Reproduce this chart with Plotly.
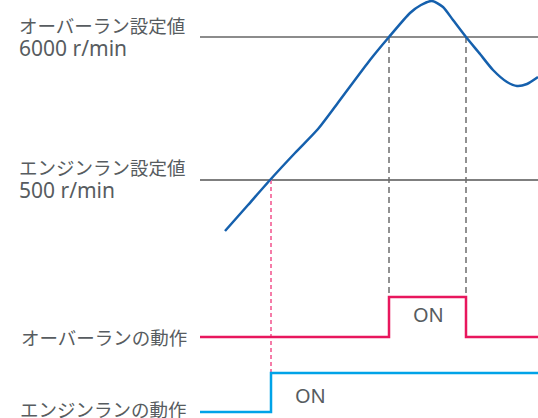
import plotly.graph_objects as go

# --- data (time units along x, signal level along y; y grows downward) ---
speed_t = [225, 248, 270, 295, 318, 340, 370, 389, 410, 421, 432, 443, 453, 466, 480, 493, 507, 517, 527, 538]
speed_v = [231, 205, 180, 153, 129, 100, 60, 37, 13, 5, 1, 7, 20, 37, 54, 70, 82, 86, 84, 77]

overrun_level = 37      # overrun set value (6000 r/min)
engine_level = 180      # engine-run set value (500 r/min)

over_t = [200, 389, 389, 466, 466, 538]
over_v = [337, 337, 297, 297, 337, 337]

eng_t = [200, 271, 271, 538]
eng_v = [412, 412, 373, 373]

cross_eng_t = 271
cross_over_t = [389, 466]
pulse_top = 297
eng_base = 412

set_titles = [("オーバーラン設定値", 17, 25), ("エンジンラン設定値", 17, 167)]
set_values = [("6000 r/min", 17, 47.5), ("500 r/min", 17, 190)]
action_labels = [
    ("オーバーランの動作", 189, 337),
    ("エンジンランの動作", 189, 408.5),
]
on_labels = [("ON", 428, 314), ("ON", 310, 395)]

CJK = "Noto Sans CJK JP"
LAT = "Noto Sans"
TXT = "#575c60"

fig = go.Figure()

# set value lines
fig.add_trace(go.Scatter(x=[200, 538], y=[overrun_level, overrun_level], mode="lines",
                         line=dict(color="#1a1a1a", width=1.1), hoverinfo="skip"))
fig.add_trace(go.Scatter(x=[200, 538], y=[engine_level, engine_level], mode="lines",
                         line=dict(color="#555555", width=1.5), hoverinfo="skip"))

# dashed guides
fig.add_trace(go.Scatter(x=[cross_eng_t, cross_eng_t], y=[engine_level, eng_base], mode="lines",
                         line=dict(color="#f57ca8", width=2, dash="4px,3px"), hoverinfo="skip"))
for t in cross_over_t:
    fig.add_trace(go.Scatter(x=[t, t], y=[overrun_level, pulse_top], mode="lines",
                             line=dict(color="#6e6e6e", width=1.5, dash="6px,4px"), hoverinfo="skip"))

# action signals
fig.add_trace(go.Scatter(x=over_t, y=over_v, mode="lines",
                         line=dict(color="#e8175d", width=2.5), hoverinfo="skip"))
fig.add_trace(go.Scatter(x=eng_t, y=eng_v, mode="lines",
                         line=dict(color="#00a3e8", width=2.5), hoverinfo="skip"))

# speed curve
fig.add_trace(go.Scatter(x=speed_t, y=speed_v, mode="lines",
                         line=dict(color="#1560ad", width=2.5, shape="spline", smoothing=0.6),
                         hoverinfo="skip"))

for txt, x, y in set_titles:
    fig.add_annotation(x=x, y=y, text=txt, showarrow=False, xanchor="left", yanchor="middle",
                       font=dict(family=CJK, size=18.5, color=TXT))
for txt, x, y in set_values:
    fig.add_annotation(x=x, y=y, text=txt, showarrow=False, xanchor="left", yanchor="middle",
                       font=dict(family=LAT, size=21, color=TXT))
for txt, x, y in action_labels:
    fig.add_annotation(x=x, y=y, text=txt, showarrow=False, xanchor="right", yanchor="middle",
                       font=dict(family=CJK, size=18.5, color=TXT))
for txt, x, y in on_labels:
    fig.add_annotation(x=x, y=y, text=txt, showarrow=False, xanchor="center", yanchor="middle",
                       font=dict(family=LAT, size=20, color=TXT))

fig.update_layout(width=538, height=418, margin=dict(l=0, r=0, t=0, b=0),
                  paper_bgcolor="white", plot_bgcolor="white", showlegend=False,
                  xaxis=dict(range=[0, 538], visible=False, fixedrange=True),
                  yaxis=dict(range=[418, 0], visible=False, fixedrange=True))

fig.write_html("out.html", config={"displayModeBar": False},
               post_script="document.body.style.margin='0';document.body.style.overflow='hidden';")
